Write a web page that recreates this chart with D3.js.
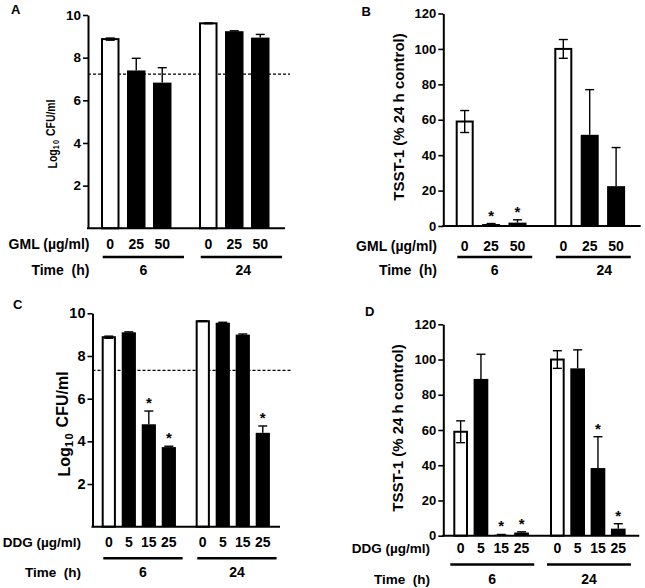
<!DOCTYPE html>
<html><head><meta charset="utf-8">
<script src="https://cdn.jsdelivr.net/npm/d3@7/dist/d3.min.js"></script>
<style>
body{margin:0;background:#fff}
svg text{font-family:"Liberation Sans",Arial,Helvetica,sans-serif;font-weight:bold;fill:#000}
</style>
</head><body>
<svg id="chart" width="645" height="588"></svg>
<script>
// ---------------- data ----------------
const timeGroups = ["6", "24"];
const gmlDoses = ["0", "25", "50"];
const ddgDoses = ["0", "5", "15", "25"];
const cfuTicks = [2, 4, 6, 8, 10];
const tsstTicks = [0, 20, 40, 60, 80, 100, 120];

// Panel A: GML, log10 CFU/ml (6 h: 0,25,50 ; 24 h: 0,25,50)
const cfuGmlMean = [8.87, 7.40, 6.83, 9.61, 9.24, 8.94];
const cfuGmlErr  = [0.05, 0.57, 0.70, 0.02, 0.02, 0.15];
const cfuGmlSig  = [false, false, false, false, false, false];
const cfuGmlInoculum = 7.23;

// Panel B: GML, TSST-1 (% 24 h control)
const tsstGmlMean = [59, 1.1, 1.9, 100, 51.5, 22.5];
const tsstGmlErr  = [6.2, 0.3, 1.6, 5.3, 25.5, 21.8];
const tsstGmlSig  = [false, true, true, false, false, false];

// Panel C: DDG, log10 CFU/ml (6 h: 0,5,15,25 ; 24 h: 0,5,15,25)
const cfuDdgMean = [8.88, 9.11, 4.80, 3.73, 9.63, 9.56, 9.00, 4.40];
const cfuDdgErr  = [0.05, 0.02, 0.62, 0.04, 0.02, 0.02, 0.03, 0.32];
const cfuDdgSig  = [false, false, true, true, false, false, false, true];
const cfuDdgInoculum = 7.33;

// Panel D: DDG, TSST-1 (% 24 h control)
const tsstDdgMean = [59, 89, 0.5, 1.8, 100, 95, 38.4, 4.0];
const tsstDdgErr  = [6.2, 14, 0.2, 0.4, 5.0, 10.5, 17.8, 2.8];
const tsstDdgSig  = [false, false, true, true, false, false, true, true];

// ---------------- drawing ----------------
const svg = d3.select("#chart");

function drawPanel(cfg) {
  const g = svg.append("g");
  const y = d3.scaleLinear().domain(cfg.yDomain).range([cfg.yBottom, cfg.yTop]);
  const outer = d3.scaleBand().domain(timeGroups).range(cfg.groupRange)
    .paddingInner(cfg.groupPad).paddingOuter(0);
  const inner = d3.scaleBand().domain(cfg.doses).range([0, outer.bandwidth()])
    .paddingInner(cfg.barPad).paddingOuter(0);

  const rows = [];
  timeGroups.forEach((t, gi) => cfg.doses.forEach((d, di) => {
    const i = gi * cfg.doses.length + di;
    rows.push({t, d, mean: cfg.mean[i], err: cfg.err[i], sig: cfg.sig[i],
               x: outer(t) + inner(d)});
  }));
  const bw = inner.bandwidth();

  // dashed inoculum line (behind bars)
  if (cfg.inoculum !== undefined) {
    g.append("line")
      .attr("x1", cfg.axisX).attr("x2", cfg.dashEnd)
      .attr("y1", y(cfg.inoculum)).attr("y2", y(cfg.inoculum))
      .attr("stroke", "#000").attr("stroke-width", 1.2)
      .attr("stroke-dasharray", "3,2");
  }

  // bars
  g.selectAll("rect.bar").data(rows).join("rect")
    .attr("class", "bar")
    .attr("x", d => d.d === "0" ? d.x + 1 : d.x)
    .attr("width", d => d.d === "0" ? bw - 2 : bw)
    .attr("y", d => y(d.mean))
    .attr("height", d => y(0) - y(d.mean))
    .attr("fill", d => d.d === "0" ? "#fff" : "#000")
    .attr("stroke", "#000")
    .attr("stroke-width", d => d.d === "0" ? 2 : 0);

  // error bars
  const cap = 4.5;
  rows.forEach(d => {
    const cx = d.x + bw / 2;
    const lo = d.d === "0" ? d.mean - d.err : d.mean;
    const hi = d.mean + d.err;
    g.append("line").attr("x1", cx).attr("x2", cx)
      .attr("y1", y(lo)).attr("y2", y(hi))
      .attr("stroke", "#000").attr("stroke-width", 1.4);
    g.append("line").attr("x1", cx - cap).attr("x2", cx + cap)
      .attr("y1", y(hi)).attr("y2", y(hi))
      .attr("stroke", "#000").attr("stroke-width", 1.4);
    if (d.d === "0") {
      g.append("line").attr("x1", cx - cap).attr("x2", cx + cap)
        .attr("y1", y(lo)).attr("y2", y(lo))
        .attr("stroke", "#000").attr("stroke-width", 1.4);
    }
    if (d.sig) {
      g.append("text").attr("x", cx).attr("y", y(hi) - 3)
        .attr("text-anchor", "middle").style("font-size", "15px").text("*");
    }
  });

  // y axis
  const ya = g.append("g").attr("transform", `translate(${cfg.axisX},0)`)
    .call(d3.axisLeft(y).tickValues(cfg.ticks).tickSize(5).tickSizeOuter(0).tickPadding(2));
  ya.select(".domain").attr("stroke-width", 2);
  ya.selectAll(".tick line").attr("stroke-width", 1.6);
  ya.selectAll(".tick text").style("font-size", cfg.tickFont + "px")
    .style("font-family", '"Liberation Sans",Arial,sans-serif').style("font-weight", "bold");

  // x axis baseline
  g.append("line").attr("x1", cfg.axisX - 1).attr("x2", cfg.axisRight)
    .attr("y1", y(0)).attr("y2", y(0))
    .attr("stroke", "#000").attr("stroke-width", 2);

  // y axis title
  const tt = g.append("text")
    .attr("transform", `translate(${cfg.titleX},${cfg.titleY}) rotate(-90) scale(${cfg.titleSquash},1)`)
    .attr("text-anchor", "middle").attr("dy", "0.35em")
    .style("font-size", cfg.titleFont + "px");
  if (cfg.logTitle) {
    tt.append("tspan").text("Log");
    tt.append("tspan").attr("dy", "0.3em").style("font-size", "0.7em")
      .attr("letter-spacing", "1.5").text("10");
    tt.append("tspan").attr("dy", "-0.3em").text(" CFU/ml");
  } else {
    tt.text("TSST-1 (% 24 h control)");
  }

  // panel letter
  g.append("text").attr("x", cfg.letterX).attr("y", cfg.letterY)
    .style("font-size", "13px").text(cfg.letter);

  // dose labels
  g.selectAll("text.dose").data(rows).join("text")
    .attr("class", "dose")
    .attr("x", d => d.x + bw / 2).attr("y", cfg.doseY)
    .attr("text-anchor", "middle").style("font-size", cfg.doseFont + "px")
    .text(d => d.d);

  g.append("text").attr("x", cfg.labelRight).attr("y", cfg.doseY)
    .attr("text-anchor", "end").style("font-size", cfg.labelFont + "px")
    .text(cfg.agent + " (\u00b5g/ml)");
  g.append("text").attr("x", cfg.labelRight).attr("y", cfg.timeY)
    .attr("text-anchor", "end").style("font-size", cfg.labelFont + "px")
    .attr("xml:space", "preserve").style("white-space", "pre")
    .text("Time  (h)");

  // group underlines + time labels
  timeGroups.forEach((t, gi) => {
    const x1 = outer(t) + cfg.ulStart, x2 = outer(t) + outer.bandwidth() + cfg.ulEnd;
    g.append("line").attr("x1", x1).attr("x2", x2)
      .attr("y1", cfg.ulY).attr("y2", cfg.ulY)
      .attr("stroke", "#000").attr("stroke-width", 2.4);
    g.append("text").attr("x", (x1 + x2) / 2 + (gi === 1 ? cfg.time2dx : 0)).attr("y", cfg.timeY)
      .attr("text-anchor", "middle").style("font-size", "14px").text(t);
  });
}

drawPanel({
  letter: "A", letterX: 11, letterY: 14,
  doses: gmlDoses, agent: "GML",
  mean: cfuGmlMean, err: cfuGmlErr, sig: cfuGmlSig, inoculum: cfuGmlInoculum,
  yDomain: [0, 10], ticks: cfuTicks, yTop: 15, yBottom: 228.3,
  axisX: 88, axisRight: 285, dashEnd: 290,
  groupRange: [101, 269.5], groupPad: 0.281, barPad: 0.288,
  tickFont: 13.5, logTitle: true, titleFont: 13, titleSquash: 0.8, titleX: 52, titleY: 134,
  doseFont: 14, labelFont: 14, labelRight: 89.5,
  doseY: 249, ulY: 257, timeY: 274.5, ulStart: 1.7, ulEnd: 12.5, time2dx: 2
});

drawPanel({
  letter: "B", letterX: 361.5, letterY: 15.5,
  doses: gmlDoses, agent: "GML",
  mean: tsstGmlMean, err: tsstGmlErr, sig: tsstGmlSig,
  yDomain: [0, 120], ticks: tsstTicks, yTop: 13.5, yBottom: 226,
  axisX: 443.3, axisRight: 640.7,
  groupRange: [455.7, 625.1], groupPad: 0.282, barPad: 0.318,
  tickFont: 13, logTitle: false, titleFont: 15, titleSquash: 1, titleX: 399, titleY: 117,
  doseFont: 14, labelFont: 14, labelRight: 437,
  doseY: 251, ulY: 257, timeY: 274.5, ulStart: 1.6, ulEnd: 5.7, time2dx: 11
});

drawPanel({
  letter: "C", letterX: 13, letterY: 308.5,
  doses: ddgDoses, agent: "DDG",
  mean: cfuDdgMean, err: cfuDdgErr, sig: cfuDdgSig, inoculum: cfuDdgInoculum,
  yDomain: [0, 10], ticks: cfuTicks, yTop: 313.3, yBottom: 526.7,
  axisX: 92.5, axisRight: 280, dashEnd: 291,
  groupRange: [101.7, 269.9], groupPad: 0.21, barPad: 0.29,
  tickFont: 14.5, logTitle: true, titleFont: 16, titleSquash: 1, titleX: 64, titleY: 424,
  doseFont: 14, labelFont: 13.5, labelRight: 81,
  doseY: 547, ulY: 558.3, timeY: 576.5, ulStart: 1.6, ulEnd: 6.7, time2dx: 0
});

drawPanel({
  letter: "D", letterX: 365, letterY: 315.5,
  doses: ddgDoses, agent: "DDG",
  mean: tsstDdgMean, err: tsstDdgErr, sig: tsstDdgSig,
  yDomain: [0, 120], ticks: tsstTicks, yTop: 324.3, yBottom: 535.7,
  axisX: 443.3, axisRight: 639.3,
  groupRange: [453.3, 625.6], groupPad: 0.218, barPad: 0.276,
  tickFont: 13, logTitle: false, titleFont: 15, titleSquash: 1, titleX: 397.5, titleY: 428,
  doseFont: 14, labelFont: 13.5, labelRight: 430,
  doseY: 552.5, ulY: 564.5, timeY: 584, ulStart: -3, ulEnd: 5.3, time2dx: 0
});
</script>
</body></html>
